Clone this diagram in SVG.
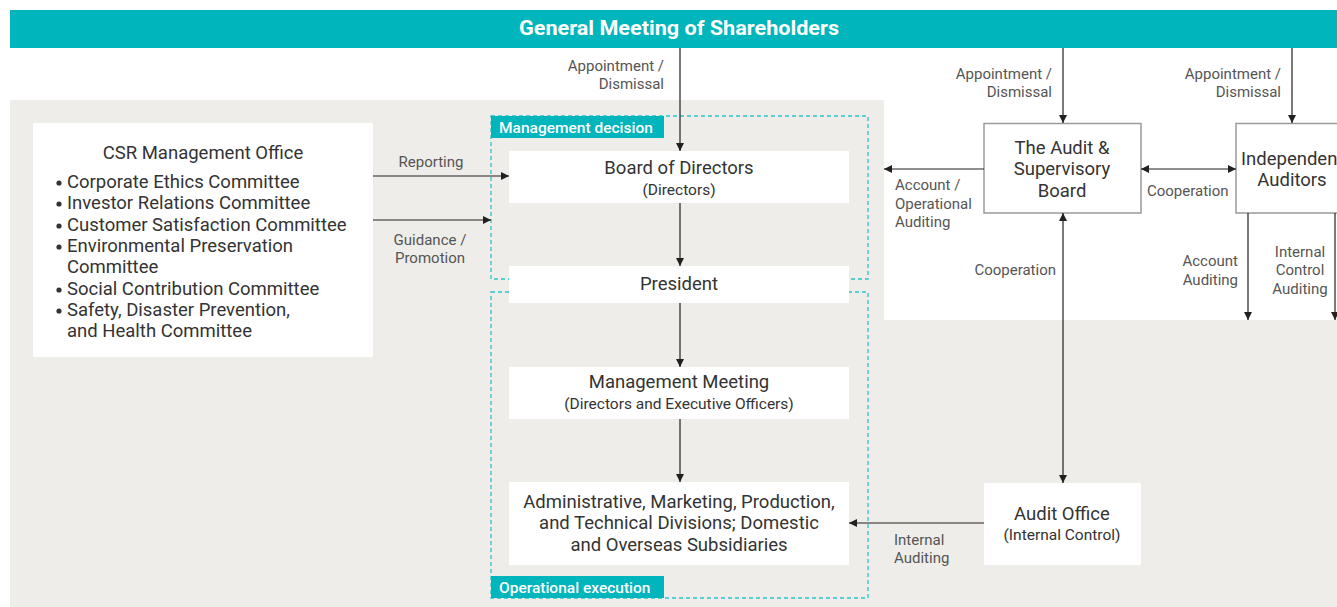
<svg xmlns="http://www.w3.org/2000/svg" width="1337" height="607" viewBox="0 0 1337 607">
<defs>
<marker id="ah" markerUnits="userSpaceOnUse" markerWidth="9" markerHeight="9" refX="8" refY="4.5" orient="auto-start-reverse"><path d="M0,0.5 L8,4.5 L0,8.5 z" fill="#231f20"/></marker>
<style>
.node{fill:#fff}
.nb{fill:#fff;stroke:#9a9a9a;stroke-width:1.5}
.t{font-family:Roboto,"Liberation Sans",sans-serif;fill:#333;font-size:18.5px}
.s{font-family:Roboto,"Liberation Sans",sans-serif;fill:#333;font-size:15.5px}
.l{font-family:Roboto,"Liberation Sans",sans-serif;fill:#555;font-size:15px}
.c{text-anchor:middle}
.r{text-anchor:end}
.dash{fill:none;stroke:#2bc4cc;stroke-width:1.3;stroke-dasharray:4 3}
.tag{fill:#00b5bc}
.tagt{font-family:Roboto,"Liberation Sans",sans-serif;fill:#fff;font-size:15.5px;font-weight:500}
.cn{fill:none;stroke:#231f20;stroke-width:1.2}
.bul{fill:#333}
</style>
</defs>
<rect x="10" y="100" width="1327" height="507" fill="#eeede9"/>
<rect x="884" y="100" width="453" height="220" fill="#fff"/>
<g id="gms">
<rect x="10" y="10" width="1327" height="38" fill="#00b5bc"/>
<text x="679" y="35" class="c" font-family="Roboto,'Liberation Sans',sans-serif" font-size="20" font-weight="bold" fill="#fff" textLength="320" lengthAdjust="spacingAndGlyphs">General Meeting of Shareholders</text>
</g>
<g id="mgmt-decision">
<rect x="491" y="116" width="377" height="163" class="dash"/>
<rect x="491" y="116" width="173" height="22" class="tag"/>
<text x="499" y="133" class="tagt">Management decision</text>
</g>
<g id="op-exec">
<rect x="491" y="292" width="377" height="306" class="dash"/>
<rect x="491" y="576" width="173" height="22" class="tag"/>
<text x="499" y="593" class="tagt">Operational execution</text>
</g>
<g id="csr">
<rect x="33" y="123" width="340" height="234" class="node"/>
<text x="203" y="159" class="t c">CSR Management Office</text>
<g class="bul">
<circle cx="59" cy="183" r="2.6"/>
<circle cx="59" cy="204" r="2.6"/>
<circle cx="59" cy="226" r="2.6"/>
<circle cx="59" cy="247" r="2.6"/>
<circle cx="59" cy="290" r="2.6"/>
<circle cx="59" cy="311" r="2.6"/>
</g>
<g class="t">
<text x="67" y="188">Corporate Ethics Committee</text>
<text x="67" y="209">Investor Relations Committee</text>
<text x="67" y="231">Customer Satisfaction Committee</text>
<text x="67" y="252">Environmental Preservation</text>
<text x="67" y="273">Committee</text>
<text x="67" y="295">Social Contribution Committee</text>
<text x="67" y="316">Safety, Disaster Prevention,</text>
<text x="67" y="337">and Health Committee</text>
</g>
</g>
<g id="board">
<rect x="509" y="151" width="340" height="52" class="node"/>
<text x="679" y="174" class="t c">Board of Directors</text>
<text x="679" y="195" class="s c">(Directors)</text>
</g>
<g id="president">
<rect x="509" y="266" width="340" height="37" class="node"/>
<text x="679" y="290" class="t c">President</text>
</g>
<g id="mgmt-meeting">
<rect x="509" y="367" width="340" height="52" class="node"/>
<text x="679" y="388" class="t c">Management Meeting</text>
<text x="679" y="409" class="s c">(Directors and Executive Officers)</text>
</g>
<g id="divisions">
<rect x="509" y="482" width="340" height="83" class="node"/>
<text x="679" y="508" class="t c">Administrative, Marketing, Production,</text>
<text x="679" y="529" class="t c">and Technical Divisions; Domestic</text>
<text x="679" y="551" class="t c">and Overseas Subsidiaries</text>
</g>
<g id="audit-board">
<rect x="984" y="123.5" width="157" height="89.5" class="nb"/>
<text x="1062" y="154" class="t c">The Audit &amp;</text>
<text x="1062" y="175" class="t c">Supervisory</text>
<text x="1062" y="197" class="t c">Board</text>
</g>
<g id="indep-auditors">
<rect x="1236" y="123.5" width="120" height="89.5" class="nb"/>
<text x="1241" y="165" class="t">Independent</text>
<text x="1292" y="186" class="t c">Auditors</text>
</g>
<g id="audit-office">
<rect x="984" y="483" width="157" height="82" class="node"/>
<text x="1062" y="520" class="t c">Audit Office</text>
<text x="1062" y="540" class="s c">(Internal Control)</text>
</g>
<g id="connectors">
<line x1="680" y1="48" x2="680" y2="151" class="cn" marker-end="url(#ah)"/>
<line x1="1063" y1="48" x2="1063" y2="123" class="cn" marker-end="url(#ah)"/>
<line x1="1292" y1="48" x2="1292" y2="123" class="cn" marker-end="url(#ah)"/>
<line x1="373" y1="176" x2="509" y2="176" class="cn" marker-end="url(#ah)"/>
<line x1="373" y1="220" x2="491" y2="220" class="cn" marker-end="url(#ah)"/>
<line x1="680" y1="203" x2="680" y2="266" class="cn" marker-end="url(#ah)"/>
<line x1="680" y1="303" x2="680" y2="367" class="cn" marker-end="url(#ah)"/>
<line x1="680" y1="419" x2="680" y2="482" class="cn" marker-end="url(#ah)"/>
<line x1="984" y1="523" x2="849" y2="523" class="cn" marker-end="url(#ah)"/>
<line x1="984" y1="169" x2="884" y2="169" class="cn" marker-end="url(#ah)"/>
<line x1="1141" y1="169" x2="1236" y2="169" class="cn" marker-start="url(#ah)" marker-end="url(#ah)"/>
<line x1="1063" y1="213" x2="1063" y2="483" class="cn" marker-start="url(#ah)" marker-end="url(#ah)"/>
<line x1="1248" y1="213" x2="1248" y2="320" class="cn" marker-end="url(#ah)"/>
<line x1="1335" y1="213" x2="1335" y2="320" class="cn" marker-end="url(#ah)"/>
<g class="l">
<text x="664" y="71" class="r">Appointment /</text>
<text x="664" y="89" class="r">Dismissal</text>
<text x="1052" y="79" class="r">Appointment /</text>
<text x="1052" y="97" class="r">Dismissal</text>
<text x="1281" y="79" class="r">Appointment /</text>
<text x="1281" y="97" class="r">Dismissal</text>
<text x="431" y="167" class="c">Reporting</text>
<text x="430" y="245" class="c">Guidance /</text>
<text x="430" y="263" class="c">Promotion</text>
<text x="895" y="190">Account /</text>
<text x="895" y="209">Operational</text>
<text x="895" y="227">Auditing</text>
<text x="1147" y="196">Cooperation</text>
<text x="1056" y="275" class="r">Cooperation</text>
<text x="1238" y="266" class="r">Account</text>
<text x="1238" y="285" class="r">Auditing</text>
<text x="1300" y="257" class="c">Internal</text>
<text x="1300" y="275" class="c">Control</text>
<text x="1300" y="294" class="c">Auditing</text>
<text x="894" y="545">Internal</text>
<text x="894" y="563">Auditing</text>
</g>
</g>
</svg>
